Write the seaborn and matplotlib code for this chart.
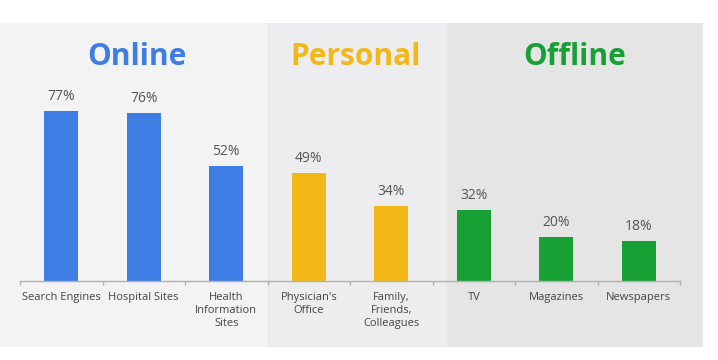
import pandas as pd
import seaborn as sns
import matplotlib.pyplot as plt
from matplotlib.patches import Rectangle

# data
sources = ["Search Engines", "Hospital Sites", "Health\nInformation\nSites",
           "Physician's\nOffice", "Family,\nFriends,\nColleagues",
           "TV", "Magazines", "Newspapers"]
groups = ["Online", "Online", "Online", "Personal", "Personal",
          "Offline", "Offline", "Offline"]
percent = [77, 76, 52, 49, 34, 32, 20, 18]

group_names = ["Online", "Personal", "Offline"]
palette = {"Online": "#3d7de4", "Personal": "#f1b818", "Offline": "#17a034"}

df = pd.DataFrame({"Source": sources, "Group": groups, "Percent": percent})

sns.set_style("white")
plt.rcParams['font.family'] = ['Open Sans', 'DejaVu Sans']

W, H = 718, 360
fig = plt.figure(figsize=(W / 100, H / 100), dpi=100)

# grey panels behind each group (pixel spans)
panels = [(0, 268, "#f3f3f3"), (268, 447, "#ededef"), (447, 703, "#e5e5e5")]
for x0, x1, col in panels:
    fig.patches.append(Rectangle((x0 / W, 13 / H), (x1 - x0) / W, 324 / H,
                                 transform=fig.transFigure, facecolor=col,
                                 edgecolor="none", zorder=-5))
fig.patches.append(Rectangle((268 / W, 13 / H), 1 / W, 324 / H,
                             transform=fig.transFigure, facecolor="#e2e2e2",
                             edgecolor="none", zorder=-4))

ax = fig.add_axes([20 / W, 79 / H, 660 / W, 258 / H])
ax.patch.set_alpha(0)
ax.set_zorder(2)

sns.barplot(data=df, x="Source", y="Percent", hue="Group", palette=palette,
            order=sources, hue_order=group_names, dodge=False, width=0.41,
            saturation=1, linewidth=0, legend=False, ax=ax)

for p in ax.patches:
    h = p.get_height()
    ax.annotate(f"{h:.0f}%", (p.get_x() + p.get_width() / 2, h),
                xytext=(0, 5), textcoords="offset points", ha="center",
                va="bottom", fontsize=10, color="#555555")

ax.set_xlim(-0.5, len(sources) - 0.5)
ax.set_ylim(0, 258 / 2.21)
ax.set_xlabel("")
ax.set_ylabel("")
ax.set_yticks([])
for side in ["top", "right", "left"]:
    ax.spines[side].set_visible(False)
ax.spines["bottom"].set_color("#b0b0b0")
ax.spines["bottom"].set_linewidth(1)

ax.set_xticks(range(len(sources)))
ax.set_xticklabels(sources, fontsize=8, color="#444444", linespacing=1.25)
ax.tick_params(axis="x", which="major", length=0, pad=8)
ax.set_xticks([i - 0.5 for i in range(len(sources) + 1)], minor=True)
ax.tick_params(axis="x", which="minor", bottom=True, length=3, width=1,
               color="#b0b0b0", direction="out")

# group headers
header_x = [137, 356, 575]
for name, xp in zip(group_names, header_x):
    fig.text(xp / W, 1 - 57 / H, name, ha="center", va="center",
             fontsize=21.5, fontweight="bold", color=palette[name])

plt.savefig("out.png", dpi=100)
